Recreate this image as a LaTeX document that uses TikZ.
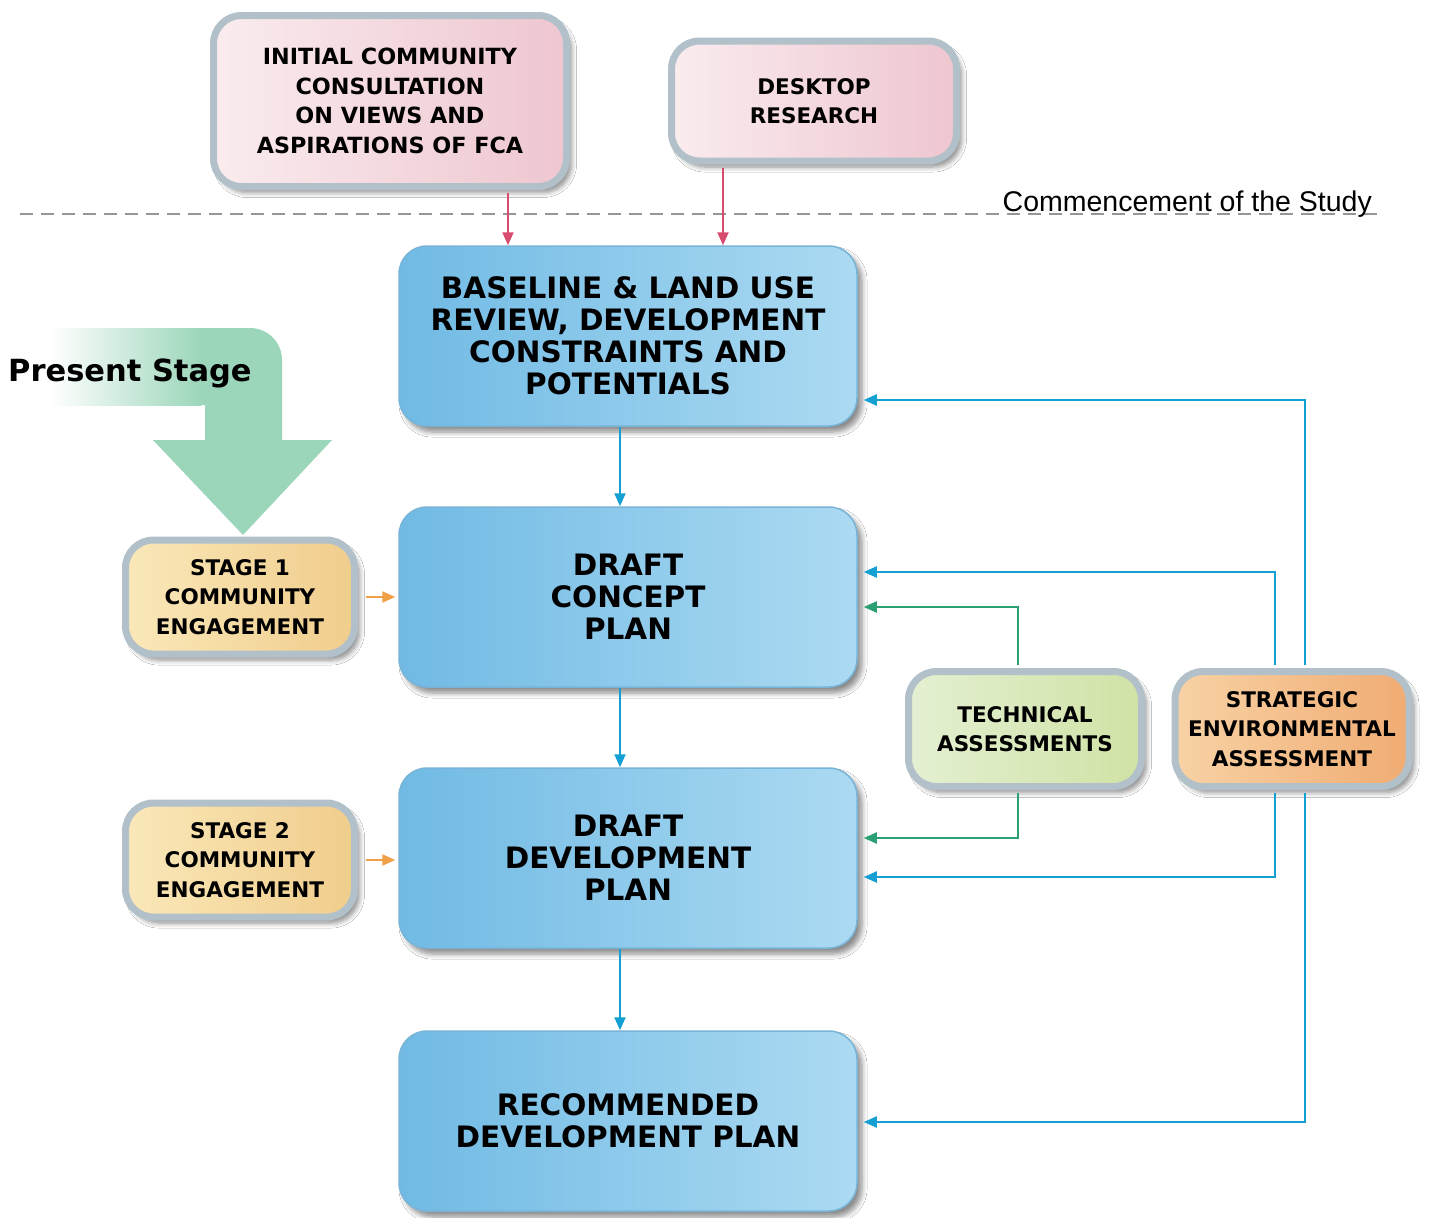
\documentclass[tikz,border=0pt]{standalone}
\usepackage{fontspec}
\setmainfont{DejaVu Sans}
\newfontfamily\helv{Liberation Sans}
\usetikzlibrary{arrows.meta,shadows.blur,calc}
\definecolor{pinkL}{RGB}{250,236,238}
\definecolor{pinkR}{RGB}{238,198,208}
\definecolor{edgeG}{RGB}{178,192,202}
\definecolor{blueL}{RGB}{112,186,228}
\definecolor{blueR}{RGB}{172,218,242}
\definecolor{blueE}{RGB}{120,180,215}
\definecolor{yelL}{RGB}{250,232,185}
\definecolor{yelR}{RGB}{240,205,140}
\definecolor{grnL}{RGB}{228,240,210}
\definecolor{grnR}{RGB}{208,226,165}
\definecolor{orL}{RGB}{248,210,165}
\definecolor{orR}{RGB}{240,172,115}
\definecolor{mint}{RGB}{156,214,186}
\definecolor{cyanA}{RGB}{20,160,210}
\definecolor{greenA}{RGB}{45,160,115}
\definecolor{pinkA}{RGB}{215,75,110}
\definecolor{orangeA}{RGB}{240,160,70}
\definecolor{dashG}{RGB}{150,150,150}
\tikzset{
  box/.style={rounded corners=28pt, align=center, inner sep=0pt,
    blur shadow={shadow xshift=5pt, shadow yshift=-6pt, shadow opacity=45, shadow blur steps=6, shadow blur radius=5pt}},
  pastel/.style={box, draw=edgeG, line width=7pt, font=\bfseries\fontsize{21.5}{29.5}\selectfont},
  pinkbox/.style={pastel, left color=pinkL, right color=pinkR},
  yelbox/.style={pastel, left color=yelL, right color=yelR, minimum width=229pt, minimum height=114pt},
  grnbox/.style={pastel, left color=grnL, right color=grnR},
  orbox/.style={pastel, left color=orL, right color=orR},
  bigbox/.style={box, draw=blueE, line width=1.5pt, left color=blueL, right color=blueR,
    minimum width=458pt, minimum height=180pt, font=\bfseries\fontsize{29.5}{32}\selectfont},
  conn/.style={line width=2.2pt, -{Triangle[length=13pt,width=11pt]}},
  pinkarr/.style={conn, draw=pinkA, color=pinkA},
  bluearr/.style={conn, draw=cyanA, color=cyanA},
  greenarr/.style={conn, draw=greenA, color=greenA},
  orangearr/.style={conn, draw=orangeA, color=orangeA},
  dashline/.style={draw=dashG, line width=1.2pt, dash pattern=on 13pt off 8pt}
}
\begin{document}
\begin{tikzpicture}[x=1pt,y=-1pt]
\useasboundingbox (0,0) rectangle (1430,1218);
\fill[white] (0,0) rectangle (1430,1218);

% Present stage arrow
\fill[mint] (200,328) -- (250,328) arc[start angle=90, end angle=0, radius=32pt] -- (282,440) -- (332,440) -- (243,535) -- (153,440) -- (205,440) -- (205,405) -- (200,405) -- cycle;
\shade[left color=white, right color=mint] (50,328) rectangle (201,405);
\node[font=\bfseries\fontsize{30.5}{34}\selectfont, anchor=base west, inner sep=0pt] (ps) at (8,381) {Present Stage};

% dashed line
\coordinate (dl) at (20,214);
\coordinate (dr) at (1382,214);
\draw[dashline] (dl) -- (dr);
\node[font=\helv\fontsize{28.5}{32}\selectfont, anchor=base east, inner sep=0pt] (comm) at (1372,211) {Commencement of the Study};

% nodes
\node[pinkbox, minimum width=353pt, minimum height=171pt, font=\bfseries\fontsize{22.3}{29.5}\selectfont] (init) at (390,101)
  {INITIAL COMMUNITY\\CONSULTATION\\ON VIEWS AND\\ASPIRATIONS OF FCA};
\node[pinkbox, minimum width=285pt, minimum height=120pt] (desk) at (814,101)
  {DESKTOP\\RESEARCH};
\node[bigbox] (base) at (628,336) {BASELINE \& LAND USE\\REVIEW, DEVELOPMENT\\CONSTRAINTS AND\\POTENTIALS};
\node[bigbox] (concept) at (628,597) {DRAFT\\CONCEPT\\PLAN};
\node[bigbox] (dev) at (628,858) {DRAFT\\DEVELOPMENT\\PLAN};
\node[bigbox] (rec) at (628,1121) {RECOMMENDED\\DEVELOPMENT PLAN};
\node[yelbox] (st1) at (240,597) {STAGE 1\\COMMUNITY\\ENGAGEMENT};
\node[yelbox] (st2) at (240,860) {STAGE 2\\COMMUNITY\\ENGAGEMENT};
\node[grnbox, minimum width=233pt, minimum height=115pt] (tech) at (1025,729) {TECHNICAL\\ASSESSMENTS};
\node[orbox, minimum width=234pt, minimum height=115pt] (sea) at (1292,729) {STRATEGIC\\ENVIRONMENTAL\\ASSESSMENT};

% helper coordinates
\coordinate (xa) at (508,0);
\coordinate (xb) at (723,0);
\coordinate (xv) at (620,0);
\coordinate (xg) at (1018,0);
\coordinate (xs1) at (1275,0);
\coordinate (xs2) at (1305,0);
\coordinate (yg1) at (0,607);
\coordinate (yg2) at (0,838);
\coordinate (yb1) at (0,572);
\coordinate (yb2) at (0,877);
\coordinate (yc1) at (0,400);
\coordinate (yc2) at (0,1122);

% connectors
\draw[pinkarr] ([yshift=-3pt]init.south -| xa) -- (base.north -| xa);
\draw[pinkarr] ([yshift=-3pt]desk.south -| xb) -- (base.north -| xb);
\draw[bluearr] (base.south -| xv) -- (concept.north -| xv);
\draw[bluearr] (concept.south -| xv) -- (dev.north -| xv);
\draw[bluearr] (dev.south -| xv) -- (rec.north -| xv);
\draw[orangearr] ([xshift=8pt]st1.east) -- ([xshift=-3pt]concept.west |- st1.east);
\draw[orangearr] ([xshift=8pt]st2.east) -- ([xshift=-3pt]concept.west |- st2.east);
\draw[greenarr] ([yshift=3pt]tech.north -| xg) |- ([xshift=6pt]concept.east |- yg1);
\draw[greenarr] ([yshift=-3pt]tech.south -| xg) |- ([xshift=6pt]dev.east |- yg2);
\draw[bluearr] ([yshift=3pt]sea.north -| xs1) |- ([xshift=6pt]concept.east |- yb1);
\draw[bluearr] ([yshift=-3pt]sea.south -| xs1) |- ([xshift=6pt]dev.east |- yb2);
\draw[bluearr] ([yshift=3pt]sea.north -| xs2) |- ([xshift=6pt]base.east |- yc1);
\draw[bluearr] ([yshift=-3pt]sea.south -| xs2) |- ([xshift=6pt]rec.east |- yc2);
\end{tikzpicture}
\end{document}
